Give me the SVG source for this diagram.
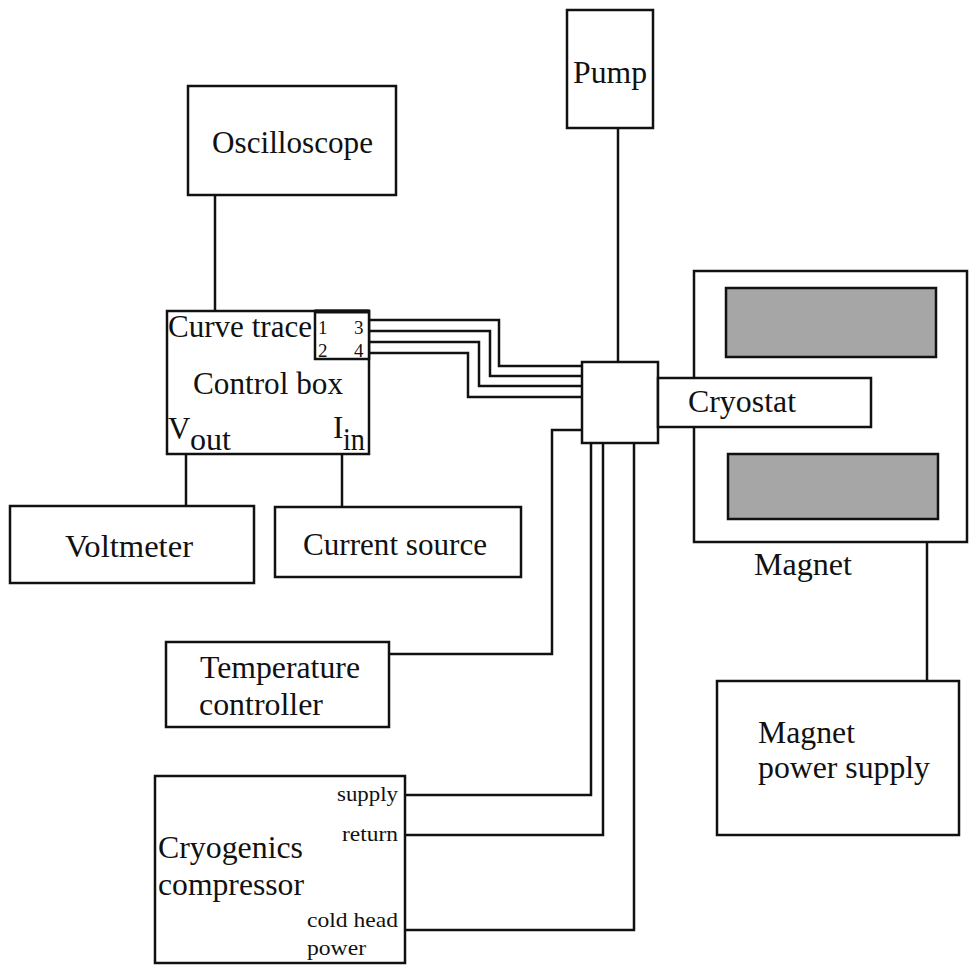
<svg xmlns="http://www.w3.org/2000/svg" width="969" height="965" viewBox="0 0 969 965">
<style>
.box{fill:#fff;stroke:#111;stroke-width:2.5}
.coil{fill:#a6a6a6;stroke:#111;stroke-width:2.5}
.wire{fill:none;stroke:#111;stroke-width:2.5}
text{font-family:"Liberation Serif","Times New Roman",serif;fill:#111}
.big{font-size:31px}
.sm{font-size:21px}
.num{font-size:19px}
</style>
<rect width="969" height="965" fill="#fff"/>
<g id="connectors">
<path class="wire" d="M618,128 V362"/>
<path class="wire" d="M215,195 V311"/>
<path class="wire" d="M186,454 V506"/>
<path class="wire" d="M342,454 V507"/>
<path class="wire" d="M368,320 H499 V366 H582"/>
<path class="wire" d="M368,331 H490 V376 H582"/>
<path class="wire" d="M368,342 H479 V386 H582"/>
<path class="wire" d="M368,353 H468 V397 H582"/>
<path class="wire" d="M389,654 H552 V430 H582"/>
<path class="wire" d="M405,795 H591 V443"/>
<path class="wire" d="M405,835 H603 V443"/>
<path class="wire" d="M405,930 H634 V443"/>
<path class="wire" d="M927,542 V681"/>
</g>
<g id="pump">
<rect class="box" x="567" y="10" width="86" height="118"/>
<text class="big" x="573" y="83" textLength="74" lengthAdjust="spacingAndGlyphs">Pump</text>
</g>
<g id="oscilloscope">
<rect class="box" x="188" y="86" width="208" height="109"/>
<text class="big" x="212" y="153" textLength="161" lengthAdjust="spacingAndGlyphs">Oscilloscope</text>
</g>
<g id="control-box">
<rect class="box" x="167" y="311" width="202" height="143"/>
<rect class="box" x="315" y="311" width="54" height="48"/>
<line x1="315" y1="311.5" x2="369" y2="311.5" stroke="#111" stroke-width="4"/>
<text class="big" x="168" y="337" textLength="144" lengthAdjust="spacingAndGlyphs">Curve trace</text>
<text class="num" x="318" y="334">1</text>
<text class="num" x="354" y="334">3</text>
<text class="num" x="318" y="357">2</text>
<text class="num" x="354" y="357">4</text>
<text class="big" x="193" y="394" textLength="150" lengthAdjust="spacingAndGlyphs">Control box</text>
<text class="big" x="168" y="439">V</text>
<text class="big" x="190" y="450" textLength="41" lengthAdjust="spacingAndGlyphs">out</text>
<text class="big" x="333" y="438">I</text>
<text class="big" x="343" y="450" textLength="22" lengthAdjust="spacingAndGlyphs">in</text>
</g>
<g id="voltmeter">
<rect class="box" x="10" y="506" width="244" height="77"/>
<text class="big" x="65" y="557" textLength="128" lengthAdjust="spacingAndGlyphs">Voltmeter</text>
</g>
<g id="current-source">
<rect class="box" x="275" y="507" width="246" height="70"/>
<text class="big" x="303" y="555" textLength="184" lengthAdjust="spacingAndGlyphs">Current source</text>
</g>
<g id="temperature-controller">
<rect class="box" x="166" y="642" width="223" height="85"/>
<text class="big" x="200" y="678" textLength="160" lengthAdjust="spacingAndGlyphs">Temperature</text>
<text class="big" x="199" y="715" textLength="124" lengthAdjust="spacingAndGlyphs">controller</text>
</g>
<g id="cryogenics-compressor">
<rect class="box" x="155" y="776" width="250" height="187"/>
<text class="big" x="158" y="858" textLength="145" lengthAdjust="spacingAndGlyphs">Cryogenics</text>
<text class="big" x="158" y="895" textLength="146" lengthAdjust="spacingAndGlyphs">compressor</text>
<text class="sm" x="398" y="801" text-anchor="end" textLength="61" lengthAdjust="spacingAndGlyphs">supply</text>
<text class="sm" x="398" y="841" text-anchor="end" textLength="56" lengthAdjust="spacingAndGlyphs">return</text>
<text class="sm" x="307" y="927" textLength="91" lengthAdjust="spacingAndGlyphs">cold head</text>
<text class="sm" x="307" y="955" textLength="59" lengthAdjust="spacingAndGlyphs">power</text>
</g>
<g id="magnet">
<rect class="box" x="694" y="271" width="273" height="271"/>
<rect class="coil" x="726" y="288" width="210" height="69"/>
<rect class="coil" x="728" y="454" width="210" height="65"/>
<text class="big" x="754" y="575" textLength="98" lengthAdjust="spacingAndGlyphs">Magnet</text>
</g>
<g id="junction">
<rect class="box" x="582" y="362" width="76" height="81"/>
</g>
<g id="cryostat">
<rect class="box" x="658" y="378" width="213" height="49"/>
<text class="big" x="688" y="412" textLength="108" lengthAdjust="spacingAndGlyphs">Cryostat</text>
</g>
<g id="magnet-power-supply">
<rect class="box" x="717" y="681" width="242" height="154"/>
<text class="big" x="758" y="743" textLength="97" lengthAdjust="spacingAndGlyphs">Magnet</text>
<text class="big" x="758" y="778" textLength="172" lengthAdjust="spacingAndGlyphs">power supply</text>
</g>
</svg>
